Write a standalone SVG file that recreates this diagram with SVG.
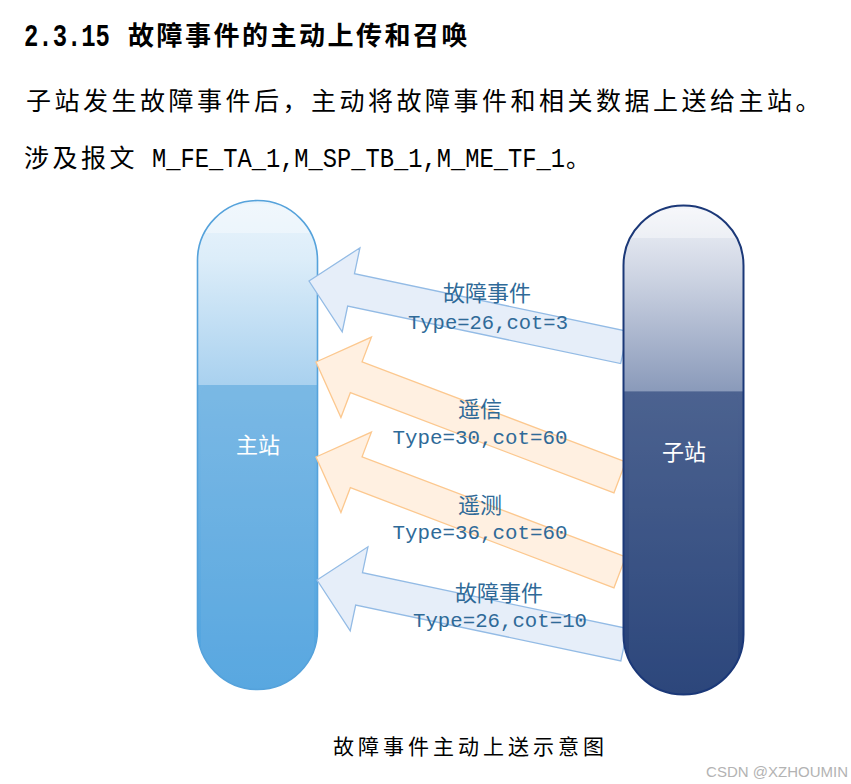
<svg xmlns="http://www.w3.org/2000/svg" width="851" height="784" viewBox="0 0 851 784">
<style>
.cjk{font-family:"Noto Sans CJK SC","Noto Sans",sans-serif;}
.mono{font-family:"Liberation Mono","DejaVu Sans Mono",monospace;}
.body{fill:#000;}
.lbl{fill:#2f6a98;text-anchor:middle;}
.barlbl{fill:#ffffff;font-size:22px;text-anchor:middle;}
.arrB{fill:#e6eef9;stroke:#93bbe5;stroke-width:1.3;}
.arrO{fill:#fff0e1;stroke:#fcc88f;stroke-width:1.3;}
</style>
<defs>
<linearGradient id="gL" x1="0" y1="200" x2="0" y2="690" gradientUnits="userSpaceOnUse">
<stop offset="0" stop-color="#eaf4fc"/>
<stop offset="0.12" stop-color="#dcedf9"/>
<stop offset="0.377" stop-color="#a9d1ef"/>
<stop offset="0.378" stop-color="#7ab9e5"/>
<stop offset="1" stop-color="#4da2df"/>
</linearGradient>
<linearGradient id="gR" x1="0" y1="205" x2="0" y2="695" gradientUnits="userSpaceOnUse">
<stop offset="0" stop-color="#f2f4f9"/>
<stop offset="0.15" stop-color="#ccd3e2"/>
<stop offset="0.38" stop-color="#8a9aba"/>
<stop offset="0.381" stop-color="#4c6290"/>
<stop offset="1" stop-color="#223d75"/>
</linearGradient>
<clipPath id="cL"><rect x="197.5" y="200.5" width="120" height="489" rx="60"/></clipPath>
<clipPath id="cR"><rect x="623.5" y="205.5" width="120" height="489" rx="60"/></clipPath>
</defs>

<g id="heading">
<text class="mono" x="0" y="0" font-size="31" font-weight="bold" transform="translate(24,46) scale(0.77,1)">2.3.15</text>
<text class="cjk body" x="128" y="45" font-size="26" font-weight="bold" letter-spacing="2.5">故障事件的主动上传和召唤</text>
<text class="cjk body" x="26" y="110" font-size="25" letter-spacing="3.5">子站发生故障事件后，主动将故障事件和相关数据上送给主站。</text>
<text class="cjk body" x="24" y="167" font-size="25" letter-spacing="3.5">涉及报文</text>
<text class="mono body" x="0" y="0" font-size="28" transform="translate(152,167) scale(0.848,1)">M_FE_TA_1,M_SP_TB_1,M_ME_TF_1</text>
<text class="cjk body" x="566" y="167" font-size="24">。</text>
</g>

<g id="master">
<rect x="197.5" y="200.5" width="120" height="489" rx="60" fill="url(#gL)"/>
<g clip-path="url(#cL)">
<path d="M200,233 A58,34 0 0 1 315,233 Z" fill="#ffffff" opacity="0.35"/>
<path d="M201,700 L201,395 Q201,385 211,385 L304,385 Q314,385 314,395 L314,700 Z" fill="#7ab9e5" opacity="0.25"/>
</g>
<rect x="197.5" y="200.5" width="120" height="489" rx="60" fill="none" stroke="#55a2db" stroke-width="1.6"/>
<text class="cjk barlbl" x="258" y="453">主站</text>
</g>

<g id="connectors">
<polygon class="arrB" transform="translate(309,281) rotate(11.9)" points="0,0 43,-43 43,-16.5 322,-16.5 322,16.5 43,16.5 43,43"/>
<polygon class="arrO" transform="translate(316,362) rotate(20.8)" points="0,0 43,-43 43,-16.5 325,-16.5 325,16.5 43,16.5 43,43"/>
<polygon class="arrO" transform="translate(316,457) rotate(20.8)" points="0,0 43,-43 43,-16.5 325,-16.5 325,16.5 43,16.5 43,43"/>
<polygon class="arrB" transform="translate(317,580) rotate(11.9)" points="0,0 43,-43 43,-16.5 314,-16.5 314,16.5 43,16.5 43,43"/>
<text class="cjk lbl" x="487" y="301" font-size="22">故障事件</text>
<text class="mono lbl" x="488" y="329" font-size="20.5" textLength="160" lengthAdjust="spacingAndGlyphs">Type=26,cot=3</text>
<text class="cjk lbl" x="480" y="417" font-size="22">遥信</text>
<text class="mono lbl" x="480" y="444" font-size="20.5" textLength="175" lengthAdjust="spacingAndGlyphs">Type=30,cot=60</text>
<text class="cjk lbl" x="480" y="513" font-size="22">遥测</text>
<text class="mono lbl" x="480" y="539" font-size="20.5" textLength="175" lengthAdjust="spacingAndGlyphs">Type=36,cot=60</text>
<text class="cjk lbl" x="499" y="601" font-size="22">故障事件</text>
<text class="mono lbl" x="500" y="627" font-size="20.5" textLength="174" lengthAdjust="spacingAndGlyphs">Type=26,cot=10</text>
</g>

<g id="slave">
<rect x="623.5" y="205.5" width="120" height="489" rx="60" fill="url(#gR)"/>
<g clip-path="url(#cR)">
<path d="M626,238 A58,34 0 0 1 741,238 Z" fill="#ffffff" opacity="0.4"/>
<path d="M629,700 L629,402 Q629,392 639,392 L728,392 Q738,392 738,402 L738,700 Z" fill="#4c6290" opacity="0.25"/>
</g>
<rect x="623.5" y="205.5" width="120" height="489" rx="60" fill="none" stroke="#1b3878" stroke-width="2"/>
<text class="cjk barlbl" x="684" y="460">子站</text>
</g>

<text class="cjk body" x="333" y="754" font-size="21" letter-spacing="4">故障事件主动上送示意图</text>
<text x="848" y="777" font-family="Liberation Sans, Arial, sans-serif" font-size="15" fill="#b3b3b3" text-anchor="end">CSDN @XZHOUMIN</text>
</svg>
